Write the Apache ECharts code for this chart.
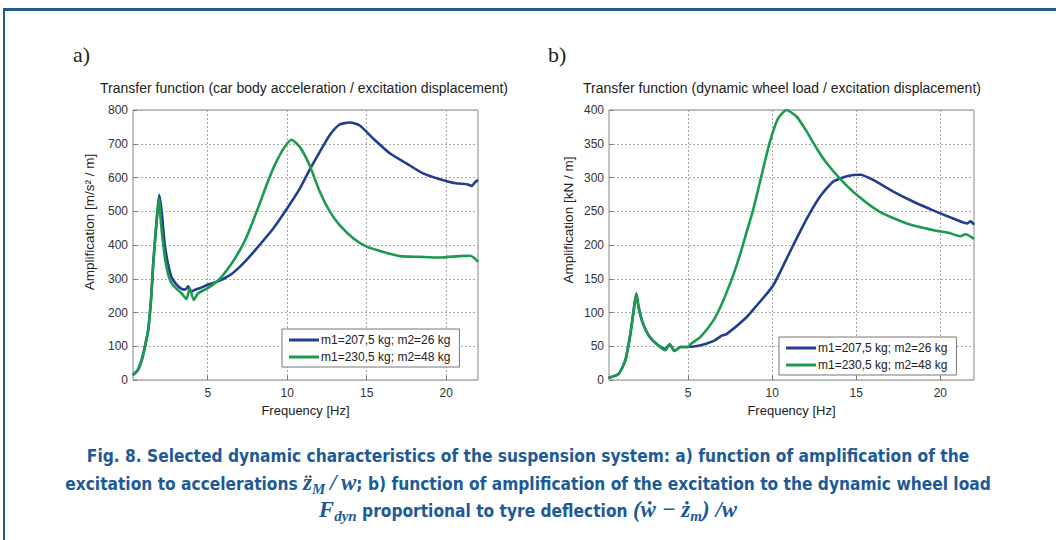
<!DOCTYPE html>
<html>
<head>
<meta charset="utf-8">
<script src="https://cdn.jsdelivr.net/npm/echarts@6/dist/echarts.min.js"></script>
<style>
  html, body { margin: 0; padding: 0; background: #fff; }
  #frame { position: absolute; left: 3px; top: 8px; width: 1100px; height: 600px;
    border-left: 2px solid #24588f; border-top: 3px solid #24588f; }
  #chart { position: absolute; left: 0; top: 0; width: 1056px; height: 540px; }
  #caption { position: absolute; left: 0; top: 443px; width: 1056px; text-align: center;
    font-family: "DejaVu Sans Condensed", sans-serif; font-weight: bold;
    font-size: 17.2px; line-height: 26.5px; color: #1d5a97; }
  #caption .m { font-family: "Liberation Serif", "DejaVu Serif", serif; font-style: italic; font-size: 23px; }
  #caption sub { font-size: 15px; vertical-align: -4px; line-height: 0; }
</style>
</head>
<body>
<div id="frame"></div>
<div id="chart"></div>
<div id="caption">
  Fig. 8. Selected dynamic characteristics of the suspension system: a) function of amplification of the<br>
  excitation to accelerations <span class="m">z&#776;<sub>M</sub>&thinsp;/&thinsp;w</span>; b) function of amplification of the excitation to the dynamic wheel load<br>
  <span class="m">F<sub>dyn</sub></span> proportional to tyre deflection <span class="m">(w&#775; &minus; z&#775;<sub>m</sub>) /w</span>
</div>
<script>
// a) car body acceleration / excitation displacement  [Hz, m/s^2/m]
const accBlue = [
  [0.3, 15], [0.6, 30], [0.85, 60], [1.05, 100], [1.26, 150], [1.45, 250], [1.57, 345], [1.78, 470],
  [1.95, 548], [2.1, 500], [2.3, 400], [2.5, 345], [2.72, 305], [3.0, 285], [3.35, 270], [3.6, 268],
  [3.77, 278], [3.95, 262], [4.18, 267], [4.5, 272], [5.0, 282], [5.5, 290], [6.0, 300], [6.5, 314],
  [7.03, 336], [7.43, 355], [8.08, 390], [9.12, 449], [10.0, 509], [10.8, 568], [11.4, 622], [12.05, 676],
  [12.68, 726], [13.3, 757], [13.94, 763], [14.56, 754], [15.4, 716], [16.45, 672], [17.5, 642],
  [18.54, 612], [19.6, 595], [20.6, 583], [21.3, 580], [21.6, 575], [21.8, 585], [22.0, 593]
]
const accGreen = [
  [0.3, 15], [0.6, 28], [0.85, 58], [1.05, 98], [1.26, 148], [1.45, 248], [1.57, 340], [1.78, 465],
  [1.95, 538], [2.05, 470], [2.3, 365], [2.5, 315], [2.72, 287], [3.0, 272], [3.35, 257], [3.66, 240],
  [3.87, 272], [4.12, 237], [4.4, 257], [5.0, 272], [5.77, 300], [6.5, 345], [7.0, 383], [7.43, 422],
  [8.08, 499], [8.6, 565], [9.12, 627], [9.75, 684], [10.27, 712], [10.8, 690], [11.4, 637],
  [12.05, 558], [12.68, 499], [13.3, 459], [14.15, 420], [15.0, 395], [16.0, 380], [17.1, 367],
  [18.3, 365], [19.6, 363], [20.8, 367], [21.5, 368], [21.8, 360], [22.0, 350]
]

// b) dynamic wheel load / excitation displacement  [Hz, kN/m]
const loadBlue = [
  [0.27, 3], [0.87, 9], [1.27, 29], [1.57, 68], [1.75, 100], [1.92, 128], [2.05, 110], [2.26, 88],
  [2.66, 66], [3.15, 53], [3.65, 46], [3.91, 53], [4.19, 43], [4.55, 49], [4.98, 49], [5.7, 51],
  [6.53, 58], [7.03, 66], [7.29, 68], [8.48, 93], [9.07, 110], [10.06, 140], [11.06, 190],
  [12.06, 239], [12.85, 272], [13.64, 294], [14.44, 302], [15.24, 304], [16.03, 296], [17.2, 279],
  [18.4, 264], [19.6, 251], [20.8, 239], [21.6, 232], [21.8, 235], [22.0, 230]
]
const loadGreen = [
  [0.27, 3], [0.87, 9], [1.27, 29], [1.57, 68], [1.75, 100], [1.92, 128], [2.05, 108], [2.26, 88],
  [2.66, 66], [3.15, 53], [3.65, 44], [3.91, 53], [4.19, 43], [4.55, 49], [4.98, 49], [5.2, 54],
  [5.74, 64], [6.5, 88], [7.03, 114], [7.68, 155], [8.08, 185], [8.48, 219], [8.87, 252], [9.27, 293],
  [9.87, 353], [10.36, 388], [10.86, 400], [11.46, 390], [12.06, 368], [12.65, 343], [13.25, 321],
  [14.04, 298], [15.04, 274], [16.4, 249], [18.0, 232], [19.6, 222], [20.5, 218], [21.2, 213],
  [21.5, 216], [22.0, 209]
]

const seriesNames = ['m1=207,5 kg; m2=26 kg', 'm1=230,5 kg; m2=48 kg']
const freqTicks = [5, 10, 15, 20]
const BLUE = '#223e8e'
const GREEN = '#1c9a50'
const FONT = 'Liberation Sans, Arial, sans-serif'

const myChart = echarts.init(document.getElementById('chart'), null, { renderer: 'svg' })

const xAxisBase = (gridIndex) => ({
  gridIndex,
  type: 'value',
  min: 0.3,
  max: 22,
  name: 'Frequency [Hz]',
  nameLocation: 'middle',
  nameGap: 24,
  nameTextStyle: { fontFamily: FONT, fontSize: 13, color: '#222' },
  axisLine: { show: false },
  axisTick: { show: true, inside: true, length: 4, customValues: freqTicks, lineStyle: { color: '#777' } },
  axisLabel: { customValues: freqTicks, fontFamily: FONT, fontSize: 12, color: '#333', margin: 7 },
  splitLine: { show: true, lineStyle: { color: '#aaa', type: [2, 2], width: 1 } }
})

const yAxisBase = (gridIndex, max, interval) => ({
  gridIndex,
  type: 'value',
  min: 0,
  max,
  interval,
  axisLine: { show: false },
  axisTick: { show: true, inside: true, length: 4, lineStyle: { color: '#777' } },
  axisLabel: { fontFamily: FONT, fontSize: 12, color: '#333', margin: 5 },
  splitLine: { show: true, lineStyle: { color: '#aaa', type: [2, 2], width: 1 } }
})

const lineSeries = (name, data, color, idx) => ({
  name,
  type: 'line',
  xAxisIndex: idx,
  yAxisIndex: idx,
  data,
  showSymbol: false,
  smooth: 0.2,
  lineStyle: { color, width: 2.6 },
  itemStyle: { color },
  animation: false
})

const legendBase = (left, top) => ({
  orient: 'vertical',
  left,
  top,
  icon: 'rect',
  itemWidth: 30,
  itemHeight: 3,
  itemGap: 5,
  padding: [5, 9, 4, 7],
  backgroundColor: '#fff',
  borderColor: '#777',
  borderWidth: 1,
  borderRadius: 0,
  selectedMode: false,
  data: seriesNames,
  textStyle: { fontFamily: FONT, fontSize: 12, color: '#222', padding: [0, 0, 0, -3] }
})

const textStyle = { font: '13px ' + FONT, fill: '#222', textAlign: 'center', textVerticalAlign: 'middle' }

myChart.setOption({
  animation: false,
  grid: [
    { left: 133, top: 110, width: 345, height: 270, show: true, borderColor: '#888', borderWidth: 1 },
    { left: 609, top: 110, width: 365, height: 270, show: true, borderColor: '#888', borderWidth: 1 }
  ],
  graphic: [
    { type: 'text', left: 73, top: 43, style: { text: 'a)', font: '22px "Liberation Serif", serif', fill: '#222' } },
    { type: 'text', left: 548, top: 43, style: { text: 'b)', font: '22px "Liberation Serif", serif', fill: '#222' } },
    { type: 'text', x: 304, y: 88, style: Object.assign({}, textStyle, { text: 'Transfer function (car body acceleration / excitation displacement)', font: '14px ' + FONT }) },
    { type: 'text', x: 782, y: 88, style: Object.assign({}, textStyle, { text: 'Transfer function (dynamic wheel load / excitation displacement)', font: '14px ' + FONT }) },
    { type: 'text', x: 89, y: 222, rotation: Math.PI / 2, style: Object.assign({}, textStyle, { text: 'Amplification [m/s² / m]', font: '13.5px ' + FONT }) },
    { type: 'text', x: 568, y: 220, rotation: Math.PI / 2, style: Object.assign({}, textStyle, { text: 'Amplification [kN / m]', font: '13.5px ' + FONT }) }
  ],
  legend: [legendBase(282, 329), legendBase(779, 337)],
  xAxis: [xAxisBase(0), xAxisBase(1)],
  yAxis: [yAxisBase(0, 800, 100), yAxisBase(1, 400, 50)],
  series: [
    lineSeries(seriesNames[0], accBlue, BLUE, 0),
    lineSeries(seriesNames[1], accGreen, GREEN, 0),
    lineSeries(seriesNames[0], loadBlue, BLUE, 1),
    lineSeries(seriesNames[1], loadGreen, GREEN, 1)
  ]
})
</script>
</body>
</html>
